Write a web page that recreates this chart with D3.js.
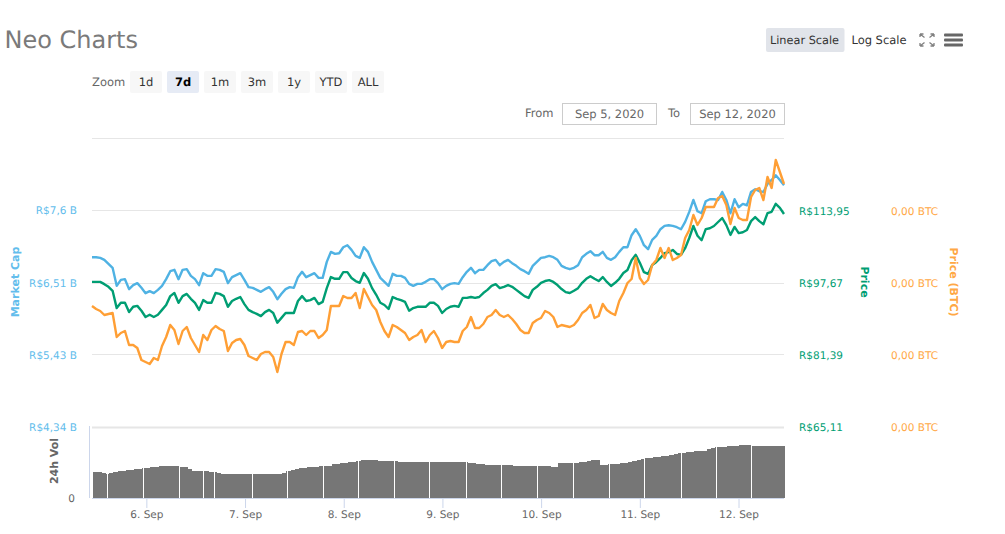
<!DOCTYPE html>
<html>
<head>
<meta charset="utf-8">
<script src="https://cdn.jsdelivr.net/npm/d3@7/dist/d3.min.js"></script>
<style>
html,body{margin:0;padding:0;background:#fff;}
svg{display:block;font-family:"DejaVu Sans",sans-serif;}
text{text-rendering:geometricPrecision;}
</style>
</head>
<body>
<div id="chart"></div>
<script>
// ---- Data ----
const titleText = "Neo Charts";
const rangeButtons = ["1d","7d","1m","3m","1y","YTD","ALL"];
const selectedRange = "7d";
const fromDate = "Sep 5, 2020";
const toDate = "Sep 12, 2020";

const capTicks = [4.34,5.43,6.51,7.6];
const capTopGrid = 8.68;
const priceTicks = [65.11,81.39,97.67,113.95];
const btcTicks = [1.365,1.726,2.087,2.448]; // thousandths of a BTC, all print as 0,00
const dayTicks = ["2020-09-06","2020-09-07","2020-09-08","2020-09-09","2020-09-10","2020-09-11","2020-09-12"];

// Market cap, R$ billions
const marketCap = [
6.89,6.89,6.88,6.85,6.79,6.73,6.46,6.55,6.56,6.41,
6.47,6.50,6.43,6.35,6.38,6.35,6.40,6.46,6.56,6.68,
6.70,6.56,6.70,6.71,6.61,6.56,6.47,6.65,6.61,6.61,
6.71,6.70,6.67,6.50,6.59,6.62,6.65,6.55,6.44,6.43,
6.40,6.37,6.41,6.44,6.37,6.26,6.34,6.41,6.44,6.43,
6.59,6.67,6.59,6.62,6.65,6.58,6.58,6.82,6.97,6.94,6.95,7.04,
7.07,7.00,6.91,6.88,7.04,6.97,6.82,6.70,6.58,6.52,
6.46,6.64,6.61,6.61,6.58,6.49,6.46,6.49,6.49,6.52,
6.56,6.56,6.50,6.41,6.46,6.49,6.50,6.49,6.59,6.67,
6.73,6.65,6.70,6.70,6.77,6.83,6.85,6.77,6.82,6.85,
6.80,6.76,6.71,6.68,6.64,6.76,6.82,6.88,6.89,6.91,
6.89,6.85,6.76,6.73,6.71,6.73,6.77,6.89,6.94,6.98,6.92,
6.92,6.97,6.88,6.85,6.89,6.97,7.04,7.04,7.22,7.31,
7.21,7.07,7.01,7.15,7.21,7.31,7.36,7.37,7.36,7.34,
7.31,7.42,7.57,7.75,7.58,7.55,7.73,7.76,7.76,7.75,
7.87,7.75,7.55,7.76,7.64,7.69,7.67,7.87,7.91,7.88,
7.87,7.99,8.05,8.12,8.05,7.97];

// Price, R$
const price = [
97.8,97.8,97.8,97.3,96.7,95.8,91.9,93.1,93.1,91.0,
92.2,92.4,91.3,89.9,90.4,89.9,90.4,91.5,92.6,94.6,
95.3,93.1,94.6,95.1,94.0,93.1,91.5,93.7,93.1,93.1,
95.3,95.1,94.6,92.2,93.5,94.0,94.4,92.8,91.5,91.0,
90.6,90.1,91.0,91.5,90.8,88.6,89.7,90.8,90.8,90.8,
93.5,94.6,93.5,93.7,94.2,92.8,93.3,96.4,98.9,98.5,98.5,100.0,
100.0,98.7,98.0,97.6,99.8,98.5,96.4,94.9,93.1,92.6,
91.7,94.4,94.0,93.7,93.3,91.3,91.9,92.2,92.2,92.2,
93.1,93.1,92.4,90.8,91.7,92.2,92.4,92.2,94.2,94.2,
94.4,94.2,94.4,95.3,96.0,96.9,97.3,96.4,96.7,97.1,
96.7,96.0,95.3,94.6,94.2,96.0,96.7,97.6,98.0,98.2,
97.8,97.1,96.2,95.5,95.3,95.8,96.4,97.6,98.5,99.1,98.5,
98.0,98.9,97.8,96.9,97.6,98.5,99.8,100.5,102.7,103.9,
102.1,100.0,99.6,101.6,102.3,103.2,104.3,104.5,105.0,104.1,
103.9,105.4,107.7,110.4,108.2,107.2,109.7,109.9,110.4,111.3,
112.2,110.6,108.4,110.2,108.8,109.0,109.5,111.5,112.4,111.5,
110.8,113.3,113.6,115.4,114.5,113.1];

// Price, thousandths of a BTC
const priceBtc = [
1.97,1.955,1.945,1.925,1.93,1.935,1.815,1.835,1.845,1.775,
1.775,1.76,1.70,1.69,1.68,1.71,1.70,1.77,1.815,1.875,
1.85,1.78,1.845,1.865,1.81,1.775,1.74,1.825,1.80,1.85,
1.87,1.855,1.845,1.745,1.785,1.80,1.805,1.775,1.72,1.71,
1.70,1.73,1.74,1.74,1.715,1.64,1.73,1.79,1.79,1.775,
1.84,1.845,1.825,1.845,1.845,1.81,1.825,1.85,1.97,1.97,1.97,2.02,
2.01,2.01,2.035,1.96,2.055,2.015,1.975,1.95,1.89,1.845,
1.815,1.875,1.865,1.85,1.835,1.80,1.815,1.825,1.85,1.79,
1.825,1.845,1.81,1.76,1.79,1.795,1.79,1.79,1.845,1.865,
1.915,1.86,1.86,1.88,1.915,1.925,1.95,1.925,1.915,1.925,
1.905,1.88,1.85,1.835,1.835,1.885,1.90,1.91,1.945,1.935,
1.915,1.865,1.875,1.87,1.865,1.875,1.90,1.935,1.95,1.975,1.91,
1.92,1.98,1.95,1.935,1.925,1.995,2.035,2.085,2.105,2.21,
2.11,2.08,2.10,2.175,2.20,2.26,2.21,2.26,2.20,2.21,
2.225,2.31,2.35,2.425,2.375,2.41,2.465,2.465,2.465,2.51,
2.52,2.475,2.38,2.46,2.41,2.40,2.40,2.515,2.55,2.56,
2.50,2.615,2.56,2.70,2.64,2.58];

// 24h volume, R$ billions
const volume = [
.52,.52,.50,.48,.50,.52,.54,.54,.56,.56,
.58,.58,.60,.60,.62,.62,.64,.64,.64,.64,
.64,.62,.62,.58,.54,.54,.54,.54,.52,.52,
.50,.48,.48,.48,.48,.48,.48,.48,.48,.48,
.48,.48,.48,.48,.48,.48,.50,.54,.56,.58,
.60,.60,.62,.62,.62,.64,.64,.64,.68,.68,
.70,.70,.72,.72,.74,.76,.76,.76,.76,.74,
.74,.74,.74,.74,.72,.72,.72,.72,.72,.72,
.72,.72,.72,.72,.72,.72,.72,.72,.72,.72,
.72,.70,.70,.68,.68,.66,.66,.66,.66,.66,
.66,.66,.64,.64,.64,.64,.64,.64,.64,.64,
.64,.62,.62,.70,.70,.70,.70,.70,.72,.72,
.74,.76,.76,.66,.66,.68,.68,.68,.70,.70,
.72,.74,.76,.78,.80,.80,.82,.82,.84,.84,
.86,.88,.90,.90,.92,.92,.94,.94,.94,.98,
1.00,1.02,1.02,1.02,1.04,1.04,1.04,1.06,1.06,1.06,
1.04,1.04,1.04,1.04,1.04,1.04,1.04,1.04];

// Hairline white seams seen between the volume columns, as sample offsets
const volumeSeams = [3.7,12.5,21,27,29.7,38.8,47.3,56,64.6,73.4,81.9,90.7,99.3,108,116.7,125.4,134.1,142.9,151.4,160];

// ---- Time axis ----
const startTime = Date.UTC(2020,8,5,10,47);
const sampleMinutes = 60.1;
const timeAt = i => new Date(startTime + i*sampleMinutes*60000);
const times = marketCap.map((_,i)=>timeAt(i));

// ---- Layout ----
const W = 1005, H = 534;
const plotLeft = 92, plotRight = 784;
const yTop = 138, yBottom = 427, volTop = 427, volBottom = 498;
const cBlue = "#4fb2e3", cGreen = "#009e73", cOrange = "#ff9f35";
const cBlueText = "#63bdec", cOrangeText = "#ffa845";

const svg = d3.select("#chart").append("svg").attr("width",W).attr("height",H);

const x = d3.scaleUtc().domain([timeAt(0),timeAt(168)]).range([plotLeft,plotRight]);
const yCap = d3.scaleLinear().domain([4.34,8.68]).range([yBottom,yTop]);
const yPrice = d3.scaleLinear().domain([65.11,130.23]).range([yBottom,yTop]);
const yBtc = d3.scaleLinear().domain([1.365,2.81]).range([yBottom,yTop]);
const yVol = d3.scaleLinear().domain([0,1.42]).range([volBottom,volTop]);

const comma = s => s.replace(".",",");

// Title
svg.append("text").attr("x",4.5).attr("y",48).attr("font-size",24).attr("fill","#7a7a7a").text(titleText);

// Scale buttons
svg.append("rect").attr("x",766).attr("y",28).attr("width",78.5).attr("height",24).attr("rx",2).attr("fill","#e1e4ea");
svg.append("text").attr("x",804.5).attr("y",44).attr("text-anchor","middle").attr("font-size",11.3).attr("fill","#333").text("Linear Scale");
svg.append("text").attr("x",879).attr("y",44).attr("text-anchor","middle").attr("font-size",11.5).attr("fill","#333").text("Log Scale");

// Fullscreen icon
const fs = svg.append("g").attr("transform","translate(927,40)").attr("stroke","#808080").attr("stroke-width",1.3).attr("fill","none");
[[-1,-1],[1,-1],[-1,1],[1,1]].forEach(([a,b])=>{
  fs.append("path").attr("d",`M${a*2.5},${b*2.5}L${a*7},${b*6}M${a*7},${b*6}L${a*3.5},${b*6}M${a*7},${b*6}L${a*7},${b*3}`);
});
// Menu icon
[35,40,45].forEach(yy=>svg.append("rect").attr("x",944).attr("y",yy-1.5).attr("width",19).attr("height",3).attr("rx",1).attr("fill","#666"));

// Range selector
svg.append("text").attr("x",92).attr("y",86).attr("font-size",11.5).attr("fill","#666").text("Zoom");
const btn = svg.selectAll("g.rng").data(rangeButtons).join("g").attr("class","rng")
  .attr("transform",(d,i)=>`translate(${130+37*i},71)`);
btn.append("rect").attr("width",32).attr("height",22).attr("rx",2)
  .attr("fill",d=>d===selectedRange?"#e6ebf5":"#f7f7f7");
btn.append("text").attr("x",16).attr("y",14.5).attr("text-anchor","middle").attr("font-size",11.5)
  .attr("font-weight",d=>d===selectedRange?"bold":"normal")
  .attr("fill",d=>d===selectedRange?"#000":"#333").text(d=>d);

// From / To
svg.append("text").attr("x",525).attr("y",117).attr("font-size",11.5).attr("fill","#666").text("From");
svg.append("text").attr("x",668).attr("y",117).attr("font-size",11.5).attr("fill","#666").text("To");
[[562.5,fromDate],[690.5,toDate]].forEach(([bx,t])=>{
  svg.append("rect").attr("x",bx).attr("y",103.5).attr("width",94).attr("height",21).attr("fill","#fff").attr("stroke","#ccc");
  svg.append("text").attr("x",bx+47).attr("y",118).attr("text-anchor","middle").attr("font-size",11.5).attr("fill","#666").text(t);
});

// Grid
const gridVals = capTicks.concat([capTopGrid]);
svg.append("g").selectAll("line").data(gridVals).join("line")
  .attr("x1",plotLeft).attr("x2",plotRight)
  .attr("y1",d=>Math.round(yCap(d))+0.5).attr("y2",d=>Math.round(yCap(d))+0.5)
  .attr("stroke","#e6e6e6").attr("stroke-width",d=>d===4.34?2:1);

// Volume columns
const volG = svg.append("g").attr("shape-rendering","crispEdges");
volG.selectAll("rect").data(volume).join("rect")
  .attr("x",(d,i)=>x(timeAt(i))+0.8)
  .attr("width",(d,i)=>x(timeAt(i+1))-x(timeAt(i))+0.5)
  .attr("y",d=>yVol(d))
  .attr("height",d=>volBottom-yVol(d))
  .attr("fill","#767676");
volG.selectAll("line").data(volumeSeams).join("line")
  .attr("x1",d=>Math.round(x(timeAt(d)))+0.5).attr("x2",d=>Math.round(x(timeAt(d)))+0.5)
  .attr("y1",yVol(1.2)).attr("y2",volBottom)
  .attr("stroke","#fff").attr("stroke-width",1);

// Series lines
const lineOf = (scale) => d3.line().x((d,i)=>x(times[i])).y(d=>scale(d));
[[marketCap,yCap,cBlue],[price,yPrice,cGreen],[priceBtc,yBtc,cOrange]].forEach(([vals,sc,col])=>{
  svg.append("path").datum(vals).attr("fill","none").attr("stroke",col)
    .attr("stroke-width",2.4).attr("stroke-linejoin","round").attr("d",lineOf(sc));
});

// Axes
function styleAxis(g,color,size){
  g.select(".domain").remove();
  g.selectAll(".tick line").remove();
  g.selectAll(".tick text").attr("fill",color).attr("font-size",size).attr("font-family",'"DejaVu Sans",sans-serif');
}
svg.append("g").attr("transform","translate(77,0.5)")
  .call(d3.axisLeft(yCap).tickValues(capTicks).tickSize(0).tickPadding(0).tickFormat(d=>"R$"+comma(String(d))+" B"))
  .call(g=>styleAxis(g,cBlueText,10.5));
svg.append("g").attr("transform","translate(799,0.5)")
  .call(d3.axisRight(yPrice).tickValues(priceTicks).tickSize(0).tickPadding(0).tickFormat(d=>"R$"+comma(d.toFixed(2))))
  .call(g=>styleAxis(g,cGreen,10.5));
svg.append("g").attr("transform","translate(891,0.5)")
  .call(d3.axisRight(yBtc).tickValues(btcTicks).tickSize(0).tickPadding(0).tickFormat(d=>comma((d/1000).toFixed(2))+" BTC"))
  .call(g=>styleAxis(g,cOrangeText,10.5));
svg.append("g").attr("transform","translate(75,0)")
  .call(d3.axisLeft(yVol).tickValues([0]).tickSize(0).tickPadding(0).tickFormat(d=>String(d)))
  .call(g=>styleAxis(g,"#666",10.5));

// Bottom axis
const xAxis = svg.append("g").attr("transform",`translate(0,${volBottom})`)
  .call(d3.axisBottom(x).tickValues(dayTicks.map(s=>new Date(s+"T00:00:00Z")))
    .tickSize(10).tickPadding(3).tickFormat(d=>d3.utcFormat("%-d. %b")(d)));
xAxis.select(".domain").attr("stroke","#ccd6eb").attr("d",`M${plotLeft},0.5H${plotRight}`);
xAxis.selectAll(".tick line").attr("stroke","#ccd6eb");
xAxis.selectAll(".tick text").attr("fill","#666").attr("font-size",10.5).attr("font-family",'"DejaVu Sans",sans-serif');

// Left volume axis line
svg.append("line").attr("x1",89.5).attr("x2",89.5).attr("y1",volTop-1).attr("y2",volBottom).attr("stroke","#ccd6eb");

// Axis titles
function vTitle(tx,ty,rot,label,color,size){
  svg.append("text").attr("transform",`translate(${tx},${ty}) rotate(${rot})`)
    .attr("text-anchor","middle").attr("font-size",size).attr("font-weight","bold").attr("fill",color).text(label);
}
vTitle(19,282,-90,"Market Cap",cBlueText,11);
vTitle(861,282,90,"Price",cGreen,11);
vTitle(950,282,90,"Price (BTC)",cOrangeText,11);
vTitle(58,461,-90,"24h Vol","#666",11);
</script>
</body>
</html>
